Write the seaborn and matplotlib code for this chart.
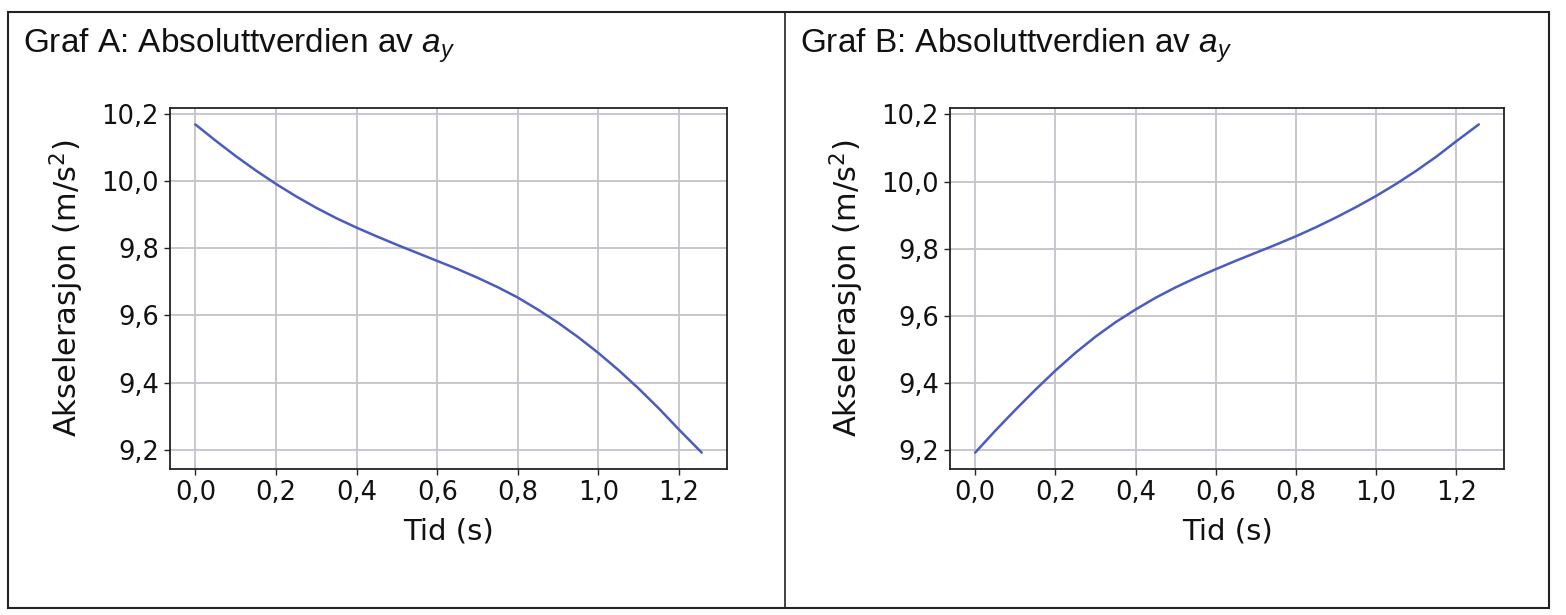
import matplotlib
matplotlib.use('Agg')
import matplotlib.pyplot as plt
from matplotlib import font_manager
from matplotlib.ticker import FuncFormatter, MultipleLocator
from matplotlib.patches import Rectangle
from matplotlib.lines import Line2D
import seaborn as sns
import pandas as pd

# Data lest av grafene
tid = [0.00, 0.05, 0.10, 0.15, 0.20, 0.25, 0.30, 0.35, 0.40, 0.45, 0.50, 0.55, 0.60,
       0.65, 0.70, 0.75, 0.80, 0.85, 0.90, 0.95, 1.00, 1.05, 1.10, 1.15, 1.20, 1.256]
ay_a = [10.168, 10.120, 10.074, 10.031, 9.991, 9.954, 9.920, 9.889, 9.861, 9.835, 9.810,
        9.786, 9.762, 9.738, 9.712, 9.684, 9.653, 9.617, 9.578, 9.535, 9.488, 9.437,
        9.382, 9.323, 9.260, 9.192]
ay_b = [9.193, 9.258, 9.320, 9.380, 9.437, 9.490, 9.538, 9.581, 9.619, 9.654, 9.685,
        9.713, 9.739, 9.764, 9.788, 9.812, 9.837, 9.864, 9.893, 9.924, 9.957, 9.993,
        10.032, 10.074, 10.120, 10.170]
titler = ['Graf A: Absoluttverdien av $a_y$', 'Graf B: Absoluttverdien av $a_y$']

sns.set_theme(style='whitegrid')
plt.rcParams['font.family'] = ['DejaVu Sans']

installed = {f.name for f in font_manager.fontManager.ttflist}
tittel_font = 'Liberation Sans' if 'Liberation Sans' in installed else 'DejaVu Sans'
plt.rcParams['mathtext.fontset'] = 'custom'
plt.rcParams['mathtext.it'] = 'DejaVu Sans:italic'
plt.rcParams['mathtext.rm'] = 'DejaVu Sans'

fig = plt.figure(figsize=(15.66, 6.15), dpi=100)
W, H = 1566, 615

# ramme rundt begge grafene
fig.add_artist(Rectangle((8 / W, 1 - 608 / H), (1549 - 8) / W, (608 - 12) / H,
                         transform=fig.transFigure, fill=False, ec='#222222', lw=1.5))
fig.add_artist(Line2D([785 / W, 785 / W], [1 - 608 / H, 1 - 12 / H],
                      transform=fig.transFigure, color='#222222', lw=1.2))

axes_px = [(170, 727), (950, 1504)]
title_x = [23, 800]
for i, (serie, (x0, x1)) in enumerate(zip([ay_a, ay_b], axes_px)):
    ax = fig.add_axes([x0 / W, 1 - 469 / H, (x1 - x0) / W, (469 - 108) / H])
    df = pd.DataFrame({'Tid': tid, 'ay': serie})
    sns.lineplot(data=df, x='Tid', y='ay', ax=ax, color='#4a5cc0', lw=1.8)
    ax.set_facecolor('white')
    ax.grid(True, color='#c4c2cc', lw=1.3)
    for s in ax.spines.values():
        s.set_color('#222222')
        s.set_linewidth(1.3)
    ax.xaxis.set_major_locator(MultipleLocator(0.2))
    ax.yaxis.set_major_locator(MultipleLocator(0.2))
    fmt = FuncFormatter(lambda v, p: f'{v:.1f}'.replace('.', ','))
    ax.xaxis.set_major_formatter(fmt)
    ax.yaxis.set_major_formatter(fmt)
    ax.tick_params(axis='both', which='major', labelsize=18.5, length=4, width=1,
                   color='#222222', labelcolor='#111111', bottom=True, left=True, pad=4)
    ax.set_xlabel('Tid (s)', fontsize=21, color='#111111', labelpad=8)
    ax.set_ylabel('Akselerasjon (m/s$^2$)', fontsize=22, color='#111111', labelpad=11)
    t = fig.text(title_x[i] / W, 1 - 53 / H, titler[i], fontsize=24, color='#111111',
                 ha='left', va='baseline', family=[tittel_font, 'DejaVu Sans'],
                 math_fontfamily='custom')

plt.rcParams['mathtext.it'] = tittel_font + ':italic'
fig.savefig('out.png', dpi=100, facecolor='white')
